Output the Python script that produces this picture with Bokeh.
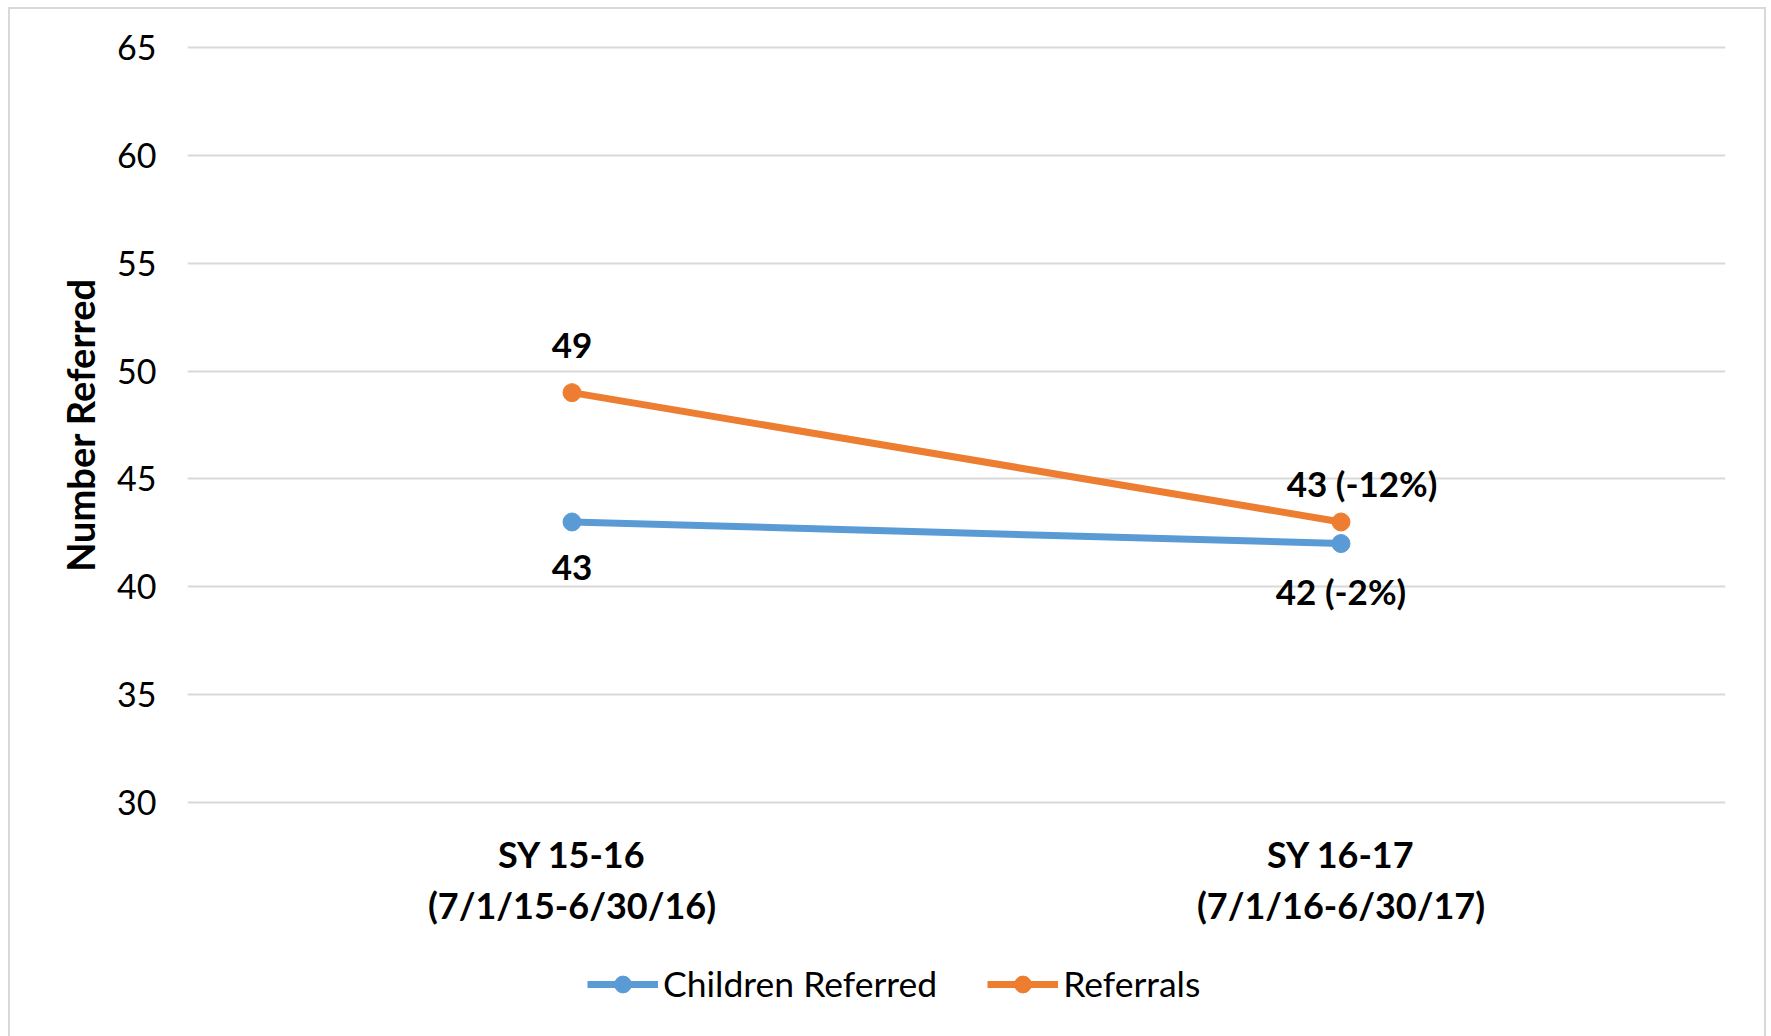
from bokeh.plotting import figure
from bokeh.layouts import column
from bokeh.models import (Range1d, FactorRange, FixedTicker, Legend, LegendItem,
                          ColumnDataSource, CategoricalAxis)
from bokeh.core.properties import value
from bokeh.embed import file_html
from bokeh.resources import INLINE

periods = ["SY 15-16", "SY 16-17"]
period_dates = ["(7/1/15-6/30/16)", "(7/1/16-6/30/17)"]
children_referred = [43, 42]
referrals = [49, 43]
y_ticks = [30, 35, 40, 45, 50, 55, 60, 65]
series_names = ["Children Referred", "Referrals"]

FONT = "Lato"
BLUE = "#5B9BD5"
ORANGE = "#ED7D31"
GRID = "#d9d9d9"
series_colors = [BLUE, ORANGE]


def point_labels(vals):
    out = [str(vals[0])]
    for v in vals[1:]:
        pct = round((v - vals[0]) / vals[0] * 100)
        out.append(f"{v} ({pct}%)")
    return out


p = figure(frame_width=1538, frame_height=763,
           x_range=FactorRange(factors=periods, range_padding=0),
           y_range=Range1d(29.8, 65.2),
           output_backend="svg", toolbar_location=None,
           min_border_left=177, min_border_right=39,
           min_border_top=34, min_border_bottom=150)
p.extra_x_ranges = {"dates": FactorRange(factors=period_dates, range_padding=0)}
p.outline_line_color = None
p.background_fill_color = "white"
p.border_fill_color = "white"

# y axis
p.yaxis.ticker = FixedTicker(ticks=y_ticks)
p.yaxis.axis_line_color = None
p.yaxis.major_tick_line_color = None
p.yaxis.minor_tick_line_color = None
p.yaxis.major_label_text_font = FONT
p.yaxis.major_label_text_font_size = "34px"
p.yaxis.major_label_text_color = "black"
p.yaxis.major_label_standoff = 25
p.yaxis.axis_label = "Number Referred"
p.yaxis.axis_label_text_font = FONT
p.yaxis.axis_label_text_font_style = "bold"
p.yaxis.axis_label_text_font_size = "38px"
p.yaxis.axis_label_text_color = "black"
p.yaxis.axis_label_standoff = 11


def style_xaxis(ax, standoff):
    ax.axis_line_color = None
    ax.major_tick_line_color = None
    ax.minor_tick_line_color = None
    ax.major_label_text_font = FONT
    ax.major_label_text_font_style = "bold"
    ax.major_label_text_font_size = "36px"
    ax.major_label_text_color = "black"
    ax.major_label_standoff = standoff


style_xaxis(p.xaxis[0], 19)
date_axis = CategoricalAxis(x_range_name="dates")
style_xaxis(date_axis, -2)
p.add_layout(date_axis, "below")

p.xgrid.grid_line_color = None
p.ygrid.grid_line_color = GRID
p.ygrid.grid_line_width = 2

# series
sources = [ColumnDataSource(dict(x=periods, y=vals))
           for vals in (children_referred, referrals)]
for src, col in zip(sources, series_colors):
    p.line("x", "y", source=src, line_color=col, line_width=7)
    p.scatter("x", "y", source=src, size=18, fill_color=col, line_color=col)

# data labels
lab_src = ColumnDataSource(dict(
    x=periods + periods,
    y=referrals + children_referred,
    t=point_labels(referrals) + point_labels(children_referred),
    xo=[0, 21, 0, 0],
    yo=[-47, -39, 46, 47],
))
p.text("x", "y", text="t", source=lab_src, x_offset="xo", y_offset="yo",
       text_font=value(FONT), text_font_style="bold", text_font_size="35px",
       text_align="center", text_baseline="middle", text_color="black")

# legend strip (its own renderers use the same data but lie outside its view)
lp = figure(width=1754, height=80,
            x_range=FactorRange(factors=periods, range_padding=0),
            y_range=Range1d(0, 1),
            x_axis_type=None, y_axis_type=None, output_backend="svg",
            toolbar_location=None, min_border=0)
lp.outline_line_color = None
lp.xgrid.visible = False
lp.ygrid.visible = False
items = []
for name, src, col in zip(series_names, sources, series_colors):
    ln = lp.line("x", "y", source=src, line_color=col, line_width=7)
    sc = lp.scatter("x", "y", source=src, size=18, fill_color=col, line_color=col)
    items.append(LegendItem(label=name, renderers=[ln, sc]))

legend = Legend(items=items, orientation="horizontal", location=(400, 31),
                glyph_width=71, glyph_height=42, label_standoff=5, spacing=50,
                padding=0, margin=0, border_line_color=None,
                background_fill_alpha=0,
                label_text_font=FONT, label_text_font_size="35.5px",
                label_text_color="black")
lp.add_layout(legend, "center")

layout = column(p, lp, spacing=0)
layout.styles = {"border-left": "2px solid #d9d9d9", "border-top": "2px solid #d9d9d9",
                 "border-right": "2px solid #d9d9d9", "margin-left": "8px",
                 "margin-top": "7px"}

open("out.html", "w").write(file_html(layout, INLINE))
